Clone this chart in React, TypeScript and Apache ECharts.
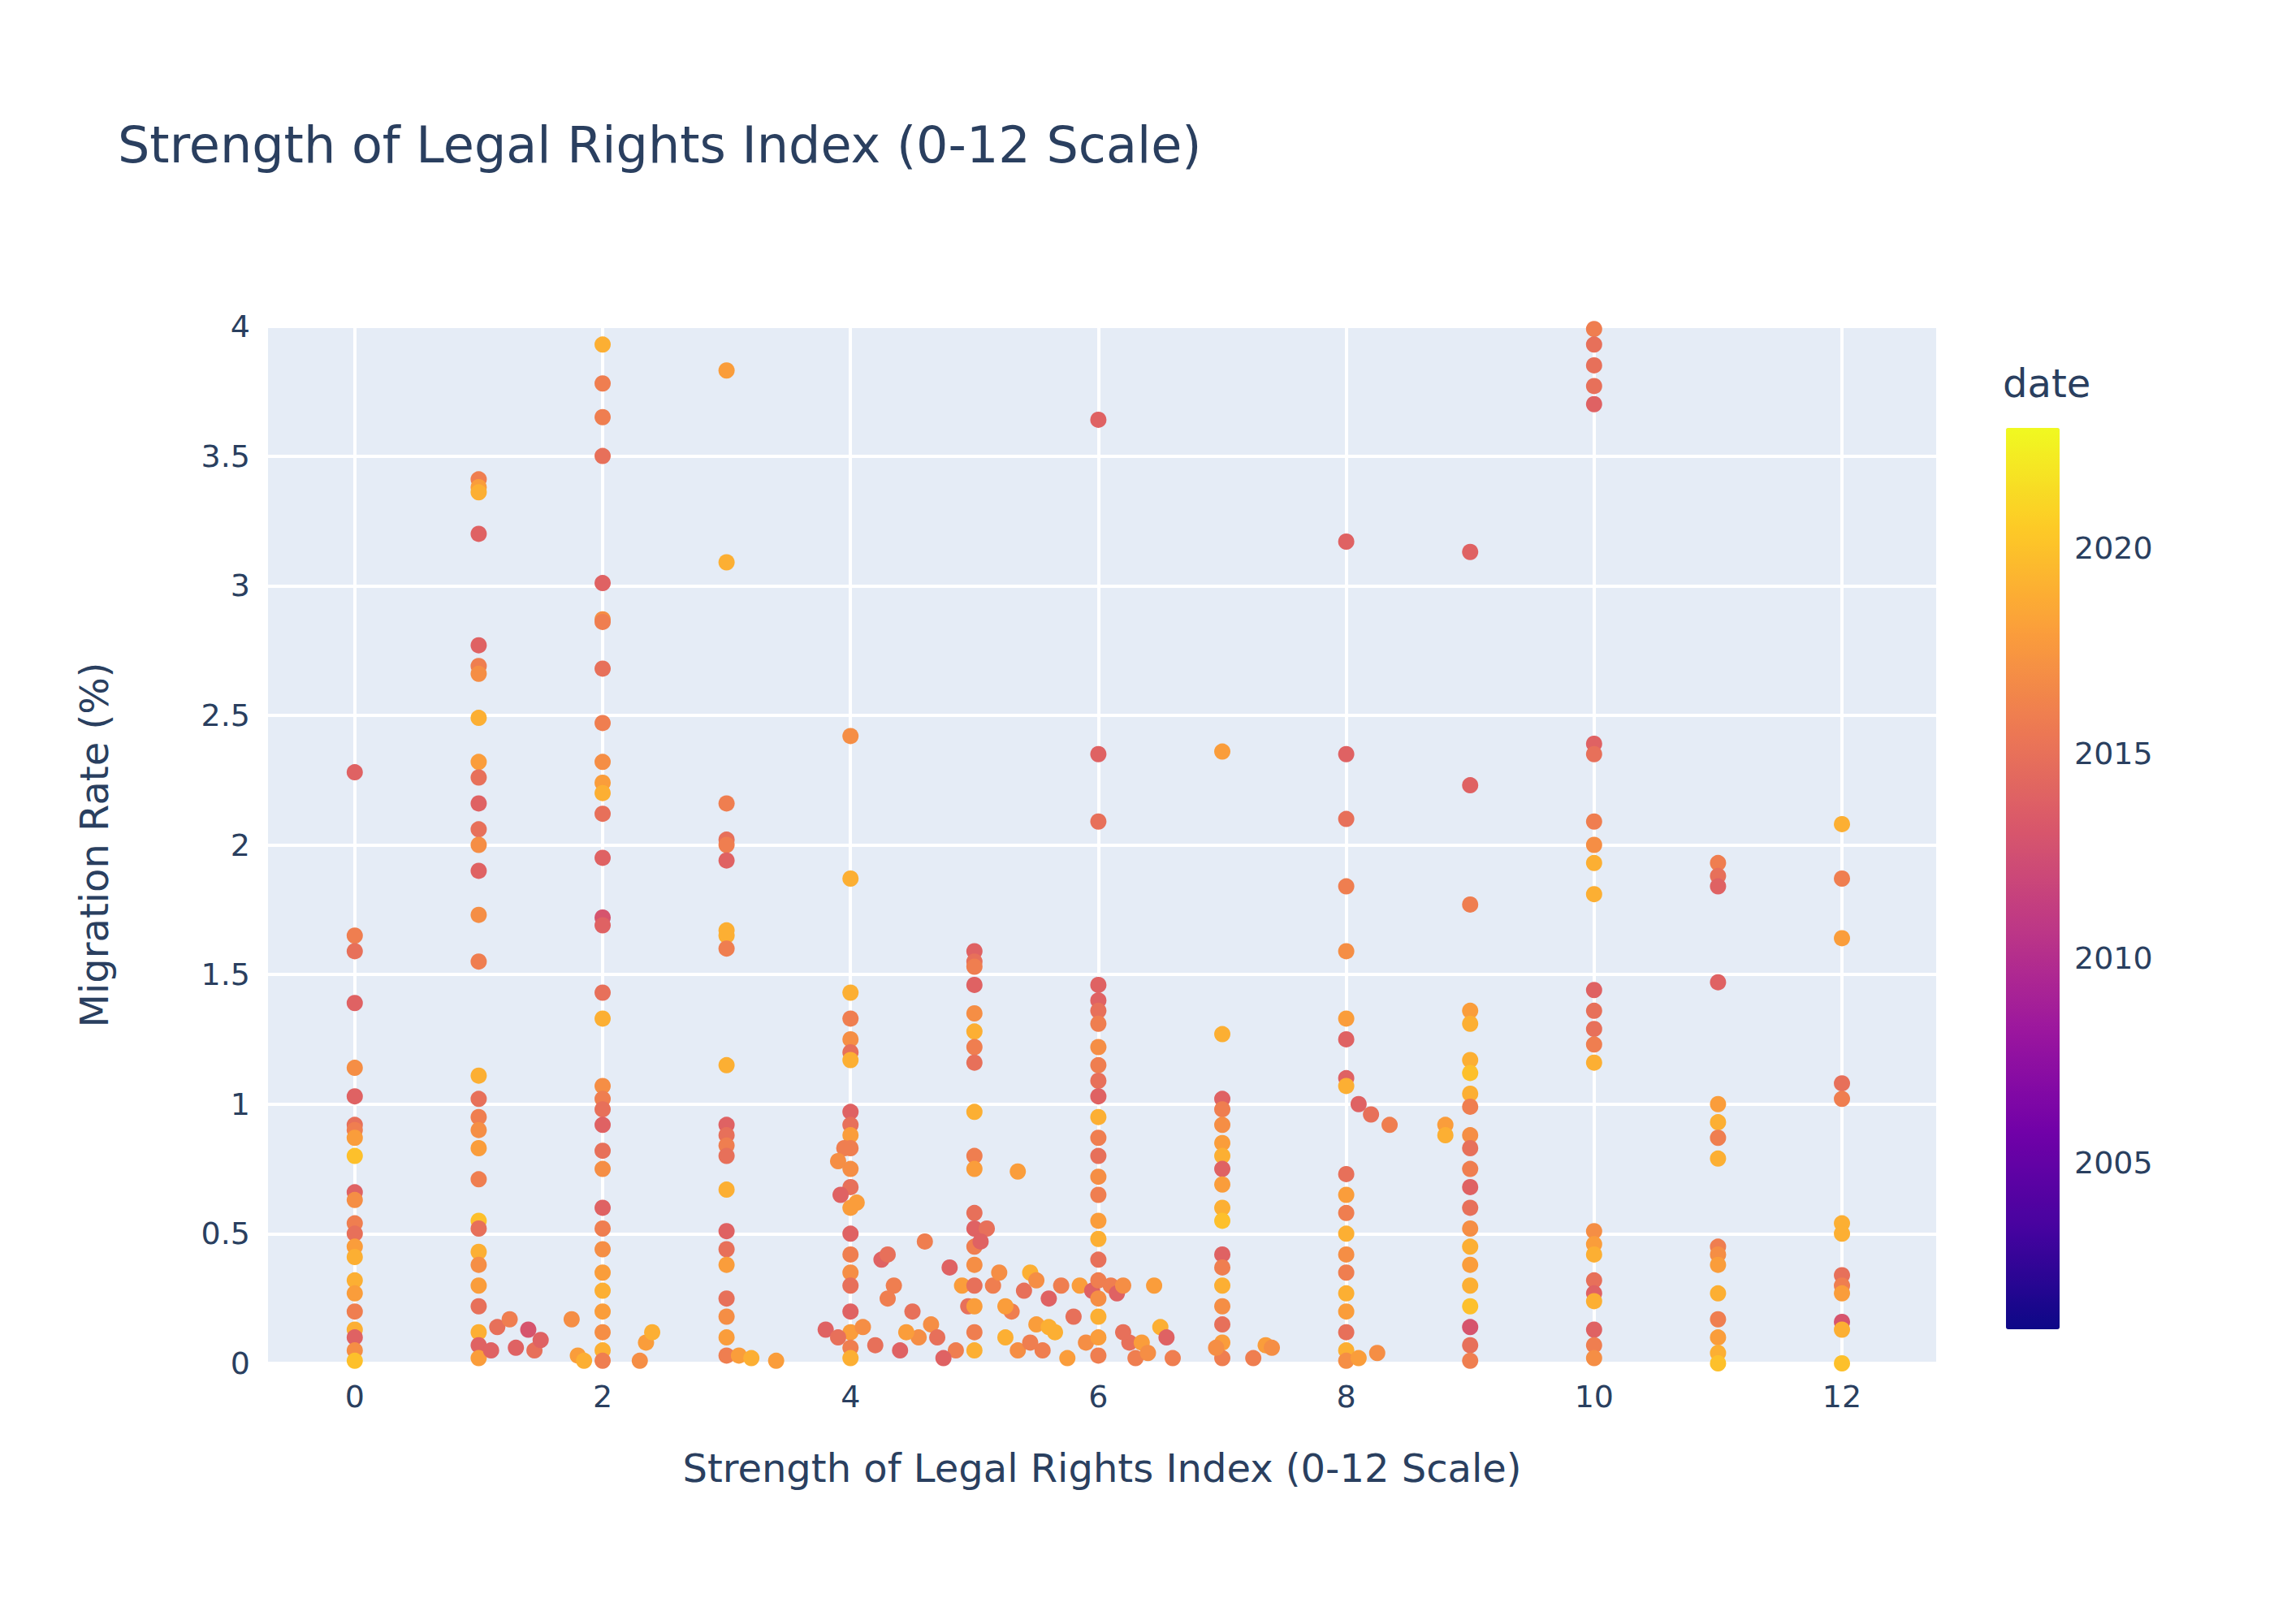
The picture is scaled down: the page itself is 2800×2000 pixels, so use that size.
import { useEffect, useRef } from "react";
import * as echarts from "echarts";

// [legal rights index, migration rate %, year]
const col0 = [[0,2.28,2014],[0,1.65,2016],[0,1.59,2015],[0,1.39,2014],[0,1.14,2017],[0,1.03,2014],[0,0.92,2015],[0,0.9,2016],[0,0.87,2018],[0,0.8,2020],[0,0.66,2014],[0,0.63,2017],[0,0.54,2016],[0,0.5,2015],[0,0.45,2018],[0,0.41,2019],[0,0.32,2019],[0,0.27,2018],[0,0.2,2016],[0,0.13,2019],[0,0.1,2014],[0,0.05,2017],[0,0.01,2020]];
const col1 = [[1,3.41,2016],[1,3.38,2018],[1,3.36,2019],[1,3.2,2014],[1,2.77,2014],[1,2.69,2016],[1,2.66,2017],[1,2.49,2019],[1,2.32,2018],[1,2.26,2015],[1,2.16,2014],[1,2.06,2015],[1,2.0,2017],[1,1.9,2014],[1,1.73,2017],[1,1.55,2016],[1,1.11,2019],[1,1.02,2015],[1,0.95,2016],[1,0.9,2017],[1,0.83,2018],[1,0.71,2016],[1,0.55,2020],[1,0.52,2015],[1,0.43,2019],[1,0.38,2017],[1,0.3,2018],[1,0.22,2015],[1,0.12,2019],[1,0.07,2014],[1,0.02,2018],[1.1,0.05,2014],[1.15,0.14,2015],[1.25,0.17,2016],[1.3,0.06,2014],[1.4,0.13,2013],[1.45,0.05,2015],[1.5,0.09,2014],[1.75,0.17,2017],[1.8,0.03,2018],[1.85,0.01,2019]];
const col2 = [[2,3.93,2019],[2,3.78,2016],[2,3.65,2016],[2,3.5,2015],[2,3.01,2014],[2,2.87,2017],[2,2.86,2016],[2,2.68,2015],[2,2.47,2016],[2,2.32,2017],[2,2.24,2018],[2,2.2,2019],[2,2.12,2015],[2,1.95,2014],[2,1.72,2013],[2,1.69,2014],[2,1.43,2015],[2,1.33,2019],[2,1.07,2017],[2,1.02,2016],[2,0.98,2015],[2,0.92,2014],[2,0.82,2015],[2,0.75,2017],[2,0.6,2014],[2,0.52,2016],[2,0.44,2017],[2,0.35,2018],[2,0.28,2019],[2,0.2,2018],[2,0.12,2017],[2,0.05,2019],[2,0.01,2016],[2.3,0.01,2017],[2.35,0.08,2018],[2.4,0.12,2019]];
const col3 = [[3,3.83,2018],[3,3.09,2019],[3,2.16,2016],[3,2.02,2015],[3,2.0,2016],[3,1.94,2014],[3,1.67,2019],[3,1.65,2019],[3,1.6,2016],[3,1.15,2019],[3,0.92,2014],[3,0.88,2015],[3,0.84,2016],[3,0.8,2015],[3,0.67,2019],[3,0.51,2014],[3,0.44,2015],[3,0.38,2018],[3,0.25,2015],[3,0.18,2017],[3,0.1,2018],[3,0.03,2016],[3.1,0.03,2018],[3.2,0.02,2019],[3.4,0.01,2018]];
const col4 = [[4,2.42,2017],[4,1.87,2019],[4,1.43,2019],[4,1.33,2016],[4,1.25,2017],[4,1.2,2015],[4,1.17,2019],[4,0.97,2014],[4,0.92,2015],[4,0.88,2018],[4,0.83,2016],[4,0.75,2017],[4,0.68,2015],[4,0.6,2018],[4,0.5,2014],[4,0.42,2016],[4,0.35,2017],[4,0.3,2015],[4,0.2,2014],[4,0.12,2018],[4,0.06,2016],[4,0.02,2019],[3.95,0.83,2016],[3.9,0.78,2017],[3.92,0.65,2014],[4.05,0.62,2018],[3.8,0.13,2014],[3.9,0.1,2015],[4.1,0.14,2017],[4.2,0.07,2015],[4.25,0.4,2014],[4.3,0.42,2015],[4.35,0.3,2016],[4.4,0.05,2014],[4.5,0.2,2015],[4.6,0.47,2016],[4.65,0.15,2017],[4.7,0.1,2015],[4.8,0.37,2014],[4.85,0.05,2016],[4.9,0.3,2018],[4.95,0.22,2015],[4.3,0.25,2016],[4.55,0.1,2017],[4.75,0.02,2014],[4.45,0.12,2018]];
const col5 = [[5,1.59,2014],[5,1.55,2015],[5,1.53,2016],[5,1.46,2014],[5,1.35,2017],[5,1.28,2019],[5,1.22,2016],[5,1.16,2015],[5,0.97,2019],[5,0.8,2016],[5,0.75,2018],[5,0.58,2015],[5,0.52,2014],[5,0.45,2016],[5,0.38,2017],[5,0.3,2015],[5,0.22,2018],[5,0.12,2016],[5,0.05,2019],[5.1,0.52,2015],[5.05,0.47,2014],[5.15,0.3,2016],[5.2,0.35,2017],[5.25,0.1,2019],[5.3,0.2,2016],[5.35,0.74,2018],[5.4,0.28,2015],[5.45,0.35,2019],[5.5,0.15,2018],[5.55,0.05,2016],[5.6,0.25,2014],[5.65,0.12,2019],[5.7,0.3,2016],[5.75,0.02,2018],[5.8,0.18,2015],[5.85,0.3,2018],[5.9,0.08,2017],[5.95,0.28,2014],[5.35,0.05,2017],[5.5,0.32,2017],[5.6,0.14,2019],[5.25,0.22,2018],[5.45,0.08,2016]];
const col6 = [[6,3.64,2014],[6,2.35,2014],[6,2.09,2015],[6,1.46,2014],[6,1.4,2014],[6,1.36,2015],[6,1.31,2016],[6,1.22,2017],[6,1.15,2016],[6,1.09,2015],[6,1.03,2014],[6,0.95,2019],[6,0.87,2016],[6,0.8,2015],[6,0.72,2017],[6,0.65,2016],[6,0.55,2018],[6,0.48,2019],[6,0.4,2015],[6,0.32,2016],[6,0.25,2017],[6,0.18,2019],[6,0.1,2018],[6,0.03,2016],[6.1,0.3,2016],[6.15,0.27,2014],[6.2,0.3,2017],[6.25,0.08,2015],[6.3,0.02,2016],[6.35,0.08,2018],[6.45,0.3,2018],[6.5,0.14,2019],[6.55,0.1,2014],[6.6,0.02,2016],[6.2,0.12,2015],[6.4,0.04,2017]];
const col7 = [[7,2.36,2018],[7,1.27,2019],[7,1.02,2014],[7,0.98,2016],[7,0.92,2017],[7,0.85,2018],[7,0.8,2019],[7,0.75,2014],[7,0.69,2018],[7,0.6,2019],[7,0.55,2020],[7,0.42,2014],[7,0.37,2016],[7,0.3,2019],[7,0.22,2017],[7,0.15,2015],[7,0.08,2018],[7,0.02,2016],[6.95,0.06,2017],[7.25,0.02,2016],[7.35,0.07,2018],[7.4,0.06,2017]];
const col8 = [[8,3.17,2014],[8,2.35,2014],[8,2.1,2015],[8,1.84,2016],[8,1.59,2017],[8,1.33,2018],[8,1.25,2014],[8,1.1,2014],[8,1.07,2019],[8,0.73,2015],[8,0.65,2018],[8,0.58,2016],[8,0.5,2019],[8,0.42,2017],[8,0.35,2016],[8,0.27,2019],[8,0.2,2018],[8,0.12,2015],[8,0.05,2019],[8,0.01,2017],[8.1,0.02,2018],[8.25,0.04,2017],[8.1,1.0,2014],[8.2,0.96,2015],[8.35,0.92,2016],[8.8,0.92,2018],[8.8,0.88,2019]];
const col9 = [[9,3.13,2014],[9,2.23,2014],[9,1.77,2016],[9,1.36,2018],[9,1.31,2019],[9,1.17,2019],[9,1.12,2020],[9,1.04,2019],[9,0.99,2016],[9,0.88,2017],[9,0.83,2015],[9,0.75,2016],[9,0.68,2014],[9,0.6,2015],[9,0.52,2017],[9,0.45,2019],[9,0.38,2018],[9,0.3,2019],[9,0.22,2020],[9,0.14,2013],[9,0.07,2015],[9,0.01,2016]];
const col10 = [[10,3.99,2016],[10,3.93,2015],[10,3.85,2015],[10,3.77,2015],[10,3.7,2014],[10,2.39,2014],[10,2.35,2015],[10,2.09,2016],[10,2.0,2017],[10,1.93,2019],[10,1.81,2019],[10,1.44,2014],[10,1.36,2015],[10,1.29,2015],[10,1.23,2016],[10,1.16,2019],[10,0.51,2017],[10,0.46,2018],[10,0.42,2019],[10,0.32,2015],[10,0.27,2014],[10,0.24,2019],[10,0.13,2014],[10,0.07,2016],[10,0.02,2017]];
const col11 = [[11,1.93,2016],[11,1.88,2015],[11,1.84,2014],[11,1.47,2014],[11,1.0,2018],[11,0.93,2019],[11,0.87,2016],[11,0.79,2019],[11,0.45,2016],[11,0.42,2017],[11,0.38,2018],[11,0.27,2019],[11,0.17,2016],[11,0.1,2018],[11,0.04,2019],[11,0.0,2020]];
const col12 = [[12,2.08,2019],[12,1.87,2016],[12,1.64,2018],[12,1.08,2015],[12,1.02,2016],[12,0.54,2019],[12,0.5,2019],[12,0.34,2015],[12,0.3,2016],[12,0.27,2018],[12,0.16,2013],[12,0.13,2019],[12,0.0,2020]];

const allPoints = [...col0, ...col1, ...col2, ...col3, ...col4, ...col5, ...col6, ...col7, ...col8, ...col9, ...col10, ...col11, ...col12];
const xTicks = [0, 2, 4, 6, 8, 10, 12];
const barTicks = [2005, 2010, 2015, 2020];
const plasma = ["#0d0887", "#46039f", "#7201a8", "#9c179e", "#bd3786", "#d8576b", "#ed7953", "#fb9f3a", "#fdca26", "#f0f921"];
const font = "'DejaVu Sans', Verdana, sans-serif";
const textColor = "#2a3f5f";
const barTop = 527;
const barHeight = 1110;

export default function App() {
  const ref = useRef<HTMLDivElement | null>(null);

  useEffect(() => {
    if (!ref.current) return;
    document.body.style.margin = "0";
    const chart = echarts.init(ref.current, undefined, { renderer: "svg" });
    chart.setOption({
      animation: false,
      backgroundColor: "#ffffff",
      textStyle: { fontFamily: font },
      title: {
        text: "Strength of Legal Rights Index (0-12 Scale)",
        left: 140,
        top: 142,
        textStyle: { color: textColor, fontSize: 62, fontWeight: "normal", fontFamily: font },
      },
      grid: { left: 330, right: 416, top: 402, bottom: 321, backgroundColor: "#e5ecf6", show: true, borderWidth: 0 },
      xAxis: {
        type: "value",
        min: -0.7,
        max: 12.76,
        name: "Strength of Legal Rights Index (0-12 Scale)",
        nameLocation: "middle",
        nameGap: 105,
        nameTextStyle: { color: textColor, fontSize: 48, fontFamily: font },
        axisLine: { show: false },
        axisTick: { show: false, customValues: xTicks },
        axisLabel: { customValues: xTicks, color: textColor, fontSize: 38, margin: 22, fontFamily: font },
        splitLine: { show: true, lineStyle: { color: "#ffffff", width: 4 } },
      },
      yAxis: {
        type: "value",
        min: 0,
        max: 4,
        interval: 0.5,
        name: "Migration Rate (%)",
        nameLocation: "middle",
        nameGap: 190,
        nameTextStyle: { color: textColor, fontSize: 48, fontFamily: font },
        axisLine: { show: false },
        axisTick: { show: false },
        axisLabel: { color: textColor, fontSize: 38, margin: 22, fontFamily: font },
        splitLine: { show: true, lineStyle: { color: "#ffffff", width: 4 } },
      },
      visualMap: {
        type: "continuous",
        min: 2001,
        max: 2023,
        dimension: 2,
        calculable: false,
        inRange: { color: plasma },
        left: 2470,
        top: barTop,
        padding: 0,
        itemWidth: 66,
        itemHeight: barHeight,
        text: ["", ""],
        showLabel: false,
      },
      graphic: [
        { type: "text", left: 2466, top: 448, style: { text: "date", fontSize: 48, fill: textColor, fontFamily: font } },
        ...barTicks.map((yr) => ({
          type: "text",
          left: 2554,
          top: barTop + ((2023 - yr) / 22) * barHeight - 22,
          style: { text: String(yr), fontSize: 38, fill: textColor, fontFamily: font },
        })),
      ],
      series: [
        {
          type: "scatter",
          symbolSize: 20,
          data: allPoints,
          itemStyle: { opacity: 1 },
        },
      ],
    });
    return () => chart.dispose();
  }, []);

  return <div ref={ref} style={{ width: 2800, height: 2000 }} />;
}
